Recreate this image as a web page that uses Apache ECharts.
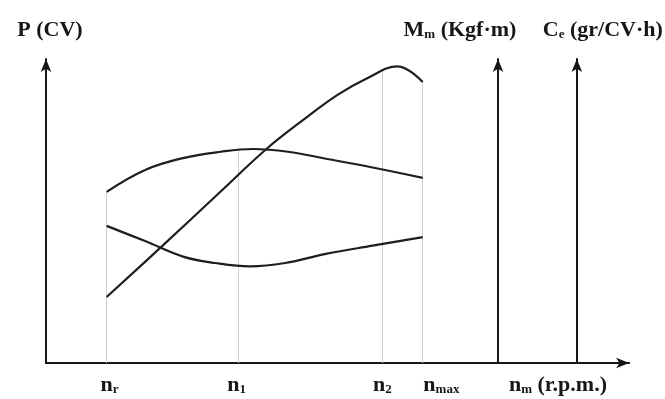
<!DOCTYPE html>
<html>
<head>
<meta charset="utf-8">
<script src="https://cdn.jsdelivr.net/npm/echarts@6/dist/echarts.min.js"></script>
<style>html,body{margin:0;padding:0;background:#fff;}#c{width:665px;height:399px;}</style>
</head>
<body>
<div id="c"></div>
<script>
// engine speed (relative units) and curve values (relative units)
const powerCurve = [[10.4,21.7],[20.0,38.6],[30.0,56.5],[37.8,70.4],[44.0,79.8],[50.0,88.2],[55.0,93.6],[60.3,97.6],[64.6,92.4]];
const torqueCurve = [[10.4,56.3],[17.0,63.5],[23.5,67.4],[30.0,69.5],[35.5,70.4],[41.5,69.5],[48.0,67.2],[56.0,64.3],[64.6,60.9]];
const consumptionCurve = [[10.4,45.1],[17.0,40.1],[23.5,35.0],[29.0,32.9],[35.0,31.8],[41.0,32.9],[48.0,35.9],[56.0,38.6],[64.6,41.4]];
// reference speeds: n_r, n_1, n_2, n_max and the heights the guide lines reach
const guideX = [10.4, 32.9, 57.7, 64.6];
const guideTop = [56.3, 70.1, 96.0, 92.4];
// secondary axes positions (speed units)
const torqueAxisX = 77.4;
const consumptionAxisX = 90.9;
// x tick labels
const tickPositions = [10.9, 32.7, 57.7, 67.8, 87.8];
const tickLabels = ['{n|n}{s|r}', '{n|n}{s|1}', '{n|n}{s|2}', '{n|n}{s|max}', '{n|n}{s|m}{n| (r.p.m.)}'];

const FONT = 'Liberation Serif';
const INK = '#161616';
const xMax = 100, yMax = 100;
const chart = echarts.init(document.getElementById('c'));
const gridLeft = 46, gridRight = 35;
const plotW = 665 - gridLeft - gridRight;
const rich = {
  n: {fontFamily: FONT, fontWeight: 'bold', fontSize: 22, color: INK},
  s: {fontFamily: FONT, fontWeight: 'bold', fontSize: 13, color: INK, verticalAlign: 'bottom', padding: [7,0,0,0]}
};

function axisY(name, offset, pad) {
  return {
    type: 'value', min: 0, max: yMax, position: 'left', offset: offset,
    name: name, nameLocation: 'end', nameGap: 18,
    nameTextStyle: {
      color: INK, fontFamily: FONT, fontWeight: 'bold', fontSize: 22, padding: pad, rich: rich
    },
    axisLine: {show: true, onZero: false, lineStyle: {color: INK, width: 2}, symbol: ['none', 'arrow'], symbolSize: [8, 13]},
    axisTick: {show: false}, axisLabel: {show: false}, splitLine: {show: false}
  };
}

const lineStyle = {color: '#1e1e1e', width: 2.2};
chart.setOption({
  animation: false,
  backgroundColor: '#fff',
  grid: {left: gridLeft, right: gridRight, top: 59, bottom: 36},
  xAxis: {
    type: 'value', min: 0, max: xMax,
    axisLine: {show: true, onZero: false, lineStyle: {color: INK, width: 2}, symbol: ['none', 'arrow'], symbolSize: [8, 13]},
    axisTick: {show: false},
    splitLine: {show: false},
    axisLabel: {
      show: true, customValues: tickPositions, margin: 11,
      formatter: function (v) { const i = tickPositions.indexOf(v); return i >= 0 ? tickLabels[i] : ''; },
      rich: rich
    }
  },
  yAxis: [
    axisY('P (CV)', 0, [0, 0, 0, 8]),
    axisY('{n|M}{s|m}{n| (Kgf·m)}', -(torqueAxisX / xMax) * plotW, [0, 76, 0, 0]),
    axisY('{n|C}{s|e}{n| (gr/CV·h)}', -(consumptionAxisX / xMax) * plotW, [0, 0, 0, 52])
  ],
  series: [
    {type: 'line', data: powerCurve, smooth: 0.4, symbol: 'none', lineStyle: lineStyle, z: 5},
    {type: 'line', data: torqueCurve, smooth: 0.4, symbol: 'none', lineStyle: lineStyle, z: 5},
    {type: 'line', data: consumptionCurve, smooth: 0.4, symbol: 'none', lineStyle: lineStyle, z: 5},
    {type: 'line', data: [], symbol: 'none', z: 1,
      markLine: {
        silent: true, symbol: ['none', 'none'], label: {show: false},
        lineStyle: {color: '#cdcdcd', width: 1, type: 'solid'},
        data: guideX.map((x, i) => [{coord: [x, 0]}, {coord: [x, guideTop[i]]}])
      }
    }
  ]
});
</script>
</body>
</html>
